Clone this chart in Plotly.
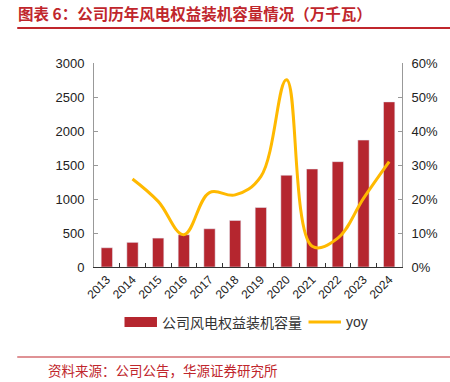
import plotly.graph_objects as go

years = ["2013", "2014", "2015", "2016", "2017", "2018", "2019", "2020", "2021", "2022", "2023", "2024"]
capacity = [283, 362, 425, 474, 562, 684, 875, 1349, 1441, 1549, 1866, 2428]
yoy_years = years[1:]
yoy = [25.9, 19.3, 9.5, 21.9, 21.2, 26.6, 55.1, 6.1, 8.5, 20.2, 31.0]

bar_name = "公司风电权益装机容量"
line_name = "yoy"
title_text = "图表 6：公司历年风电权益装机容量情况（万千瓦）"
source_text = "资料来源：公司公告，华源证券研究所"

BAR_COLOR = "#B5262F"
LINE_COLOR = "#FFB900"
RED = "#C0262C"

W, H = 450, 382
L, R, T, B = 94, 43, 63, 115
PW, PH = W - L - R, H - T - B

fig = go.Figure()
fig.add_trace(go.Bar(x=years, y=capacity, marker_color=BAR_COLOR, name=bar_name,
                     showlegend=False, yaxis="y"))
fig.add_trace(go.Scatter(x=yoy_years, y=yoy, mode="lines", name=line_name,
                         line=dict(color=LINE_COLOR, width=3, shape="spline", smoothing=1.1),
                         showlegend=False, yaxis="y2"))

font_num = "Liberation Sans, Arial, sans-serif"
font_cjk = "Noto Sans CJK SC, sans-serif"

fig.update_layout(
    width=W, height=H,
    margin=dict(l=L, r=R, t=T, b=B),
    paper_bgcolor="white", plot_bgcolor="white",
    bargap=0.56,
    xaxis=dict(type="category", showline=True, linecolor="#333", linewidth=1,
               ticks="inside", ticklen=4, tickcolor="#333", tickson="boundaries",
               tickangle=-45, tickfont=dict(family=font_num, size=12, color="#222"),
               showgrid=False, zeroline=False, fixedrange=True),
    yaxis=dict(range=[0, 3000], dtick=500, showline=True, linecolor="#999", linewidth=1,
               ticks="inside", ticklen=4, tickcolor="#999", showgrid=False, zeroline=False,
               tickfont=dict(family=font_num, size=13, color="#222"), ticklabelstandoff=6),
    yaxis2=dict(range=[0, 60], dtick=10, ticksuffix="%", overlaying="y", side="right",
                showline=True, linecolor="#999", linewidth=1, ticks="inside", ticklen=4,
                tickcolor="#999", showgrid=False, zeroline=False,
                tickfont=dict(family=font_num, size=13, color="#222"), ticklabelstandoff=6),
)

def fx(px):
    return (px - L) / PW

def fy(py):
    return (H - B - py) / PH

shapes = [
    dict(type="line", xref="paper", yref="paper", x0=fx(16), x1=fx(W + 20), y0=fy(28), y1=fy(28),
         line=dict(color=RED, width=2)),
    dict(type="line", xref="paper", yref="paper", x0=fx(16), x1=fx(W + 20), y0=fy(357), y1=fy(357),
         line=dict(color=RED, width=1.2)),
    dict(type="rect", xref="paper", yref="paper", x0=fx(125), x1=fx(158), y0=fy(327), y1=fy(317),
         fillcolor=BAR_COLOR, line=dict(width=0)),
    dict(type="line", xref="paper", yref="paper", x0=fx(312), x1=fx(345), y0=fy(322), y1=fy(322),
         line=dict(color=LINE_COLOR, width=3)),
]

def ann(text, x, y, size, color, family, bold=False):
    return dict(text=("<b>%s</b>" % text) if bold else text, xref="paper", yref="paper",
                x=fx(x), y=fy(y), xanchor="left", yanchor="middle", showarrow=False,
                font=dict(size=size, color=color, family=family))

annotations = [
    ann(title_text, 15, 13, 15.5, RED, font_cjk, bold=True),
    ann(bar_name, 161, 322, 14, "#333", font_cjk),
    ann(line_name, 348, 322, 14, "#333", font_num),
    ann(source_text, 45, 370, 13.5, RED, font_cjk),
]

fig.update_layout(shapes=shapes, annotations=annotations)
fig.write_html("out.html", config={"displayModeBar": False},
               post_script="document.body.style.margin='0';document.body.style.overflow='hidden';")
